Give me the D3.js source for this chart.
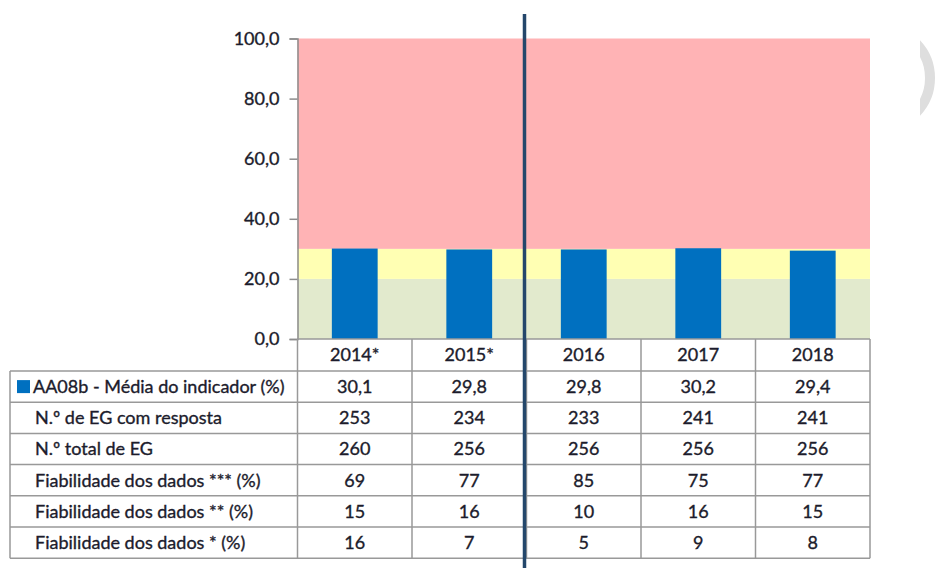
<!DOCTYPE html>
<html>
<head>
<meta charset="utf-8">
<script src="https://cdn.jsdelivr.net/npm/d3@7"></script>
<style>
  body { margin: 0; background: #fff; }
  svg { display: block; font-family: Lato, "Open Sans", sans-serif; }
</style>
</head>
<body>
<div class="chart"></div>
<script>
var years = ["2014*", "2015*", "2016", "2017", "2018"];
var media = [30.1, 29.8, 29.8, 30.2, 29.4];
var rowLabels = [
  "AA08b - Média do indicador (%)",
  "N.º de EG com resposta",
  "N.º total de EG",
  "Fiabilidade dos dados *** (%)",
  "Fiabilidade dos dados ** (%)",
  "Fiabilidade dos dados * (%)"
];
var rowValues = [
  ["30,1", "29,8", "29,8", "30,2", "29,4"],
  [253, 234, 233, 241, 241],
  [260, 256, 256, 256, 256],
  [69, 77, 85, 75, 77],
  [15, 16, 10, 16, 15],
  [16, 7, 5, 9, 8]
];
var bands = [
  {from: 0, to: 20, color: "#e2eacd"},
  {from: 20, to: 30, color: "#ffffb3"},
  {from: 30, to: 100, color: "#ffb3b5"}
];
var yTicks = [0, 20, 40, 60, 80, 100];

var width = 939, height = 568;
var plotLeft = 297.5, plotRight = 870, plotTop = 38.5, plotBottom = 339;
var tableLeft = 10, headerBottom = 371, rowH = 31.2;
var textColor = "#1c1c2c";

var svg = d3.select(".chart")
    .append("svg")
    .attr("width", width)
    .attr("height", height);

var x = d3.scaleBand().domain(years).range([plotLeft, plotRight])
    .paddingInner(0.6).paddingOuter(0.3);
var cols = d3.scaleBand().domain(years).range([plotLeft, plotRight]);
var y = d3.scaleLinear().domain([0, 100]).range([plotBottom, plotTop]);

// faixas de fundo
svg.selectAll(".band")
  .data(bands)
  .enter().append("rect")
    .attr("x", plotLeft)
    .attr("width", plotRight - plotLeft)
    .attr("y", function(d){ return y(d.to); })
    .attr("height", function(d){ return y(d.from) - y(d.to); })
    .attr("fill", function(d){ return d.color; });

// barras
svg.selectAll(".bar")
  .data(media)
  .enter().append("rect")
    .attr("x", function(d, i){ return x(years[i]); })
    .attr("width", x.bandwidth())
    .attr("y", function(d){ return y(d); })
    .attr("height", function(d){ return y(0) - y(d); })
    .attr("fill", "#0070c0");

// eixo y
var yAxis = svg.append("g")
    .attr("transform", "translate(" + plotLeft + ",0)")
    .call(d3.axisLeft(y).tickValues(yTicks).tickSize(8).tickPadding(10)
      .tickFormat(function(d){ return d3.format(".1f")(d).replace(".", ","); }));
yAxis.select(".domain").attr("stroke", "#8c8c8c").attr("stroke-width", 1.5);
yAxis.selectAll(".tick line").attr("stroke", "#8c8c8c").attr("stroke-width", 1.5);
yAxis.selectAll(".tick text")
    .attr("fill", textColor)
    .attr("stroke", textColor)
    .attr("stroke-width", 0.35)
    .style("font-size", "18px")
    .style("font-family", "Lato, sans-serif");

// tabela
var grid = svg.append("g")
    .attr("stroke", "#999")
    .attr("stroke-width", 1.5)
    .attr("fill", "none");

var tableBottom = headerBottom + rowH * rowLabels.length;

// linhas horizontais
grid.append("line")
    .attr("x1", plotLeft).attr("x2", plotRight)
    .attr("y1", plotBottom).attr("y2", plotBottom);
d3.range(rowLabels.length + 1).forEach(function(i){
  grid.append("line")
      .attr("x1", tableLeft).attr("x2", plotRight)
      .attr("y1", headerBottom + i * rowH).attr("y2", headerBottom + i * rowH);
});
// linhas verticais
grid.append("line")
    .attr("x1", tableLeft).attr("x2", tableLeft)
    .attr("y1", headerBottom).attr("y2", tableBottom);
years.forEach(function(yr){
  grid.append("line")
      .attr("x1", cols(yr)).attr("x2", cols(yr))
      .attr("y1", plotBottom).attr("y2", tableBottom);
});
grid.append("line")
    .attr("x1", plotRight).attr("x2", plotRight)
    .attr("y1", plotBottom).attr("y2", tableBottom);

var txt = svg.append("g")
    .attr("fill", textColor)
    .attr("stroke", textColor)
    .attr("stroke-width", 0.35)
    .style("font-size", "18px");

// cabeçalho
txt.selectAll(".hdr")
  .data(years)
  .enter().append("text")
    .attr("x", function(d){ return cols(d) + cols.bandwidth() / 2; })
    .attr("y", (plotBottom + headerBottom) / 2)
    .attr("dy", "0.36em")
    .attr("text-anchor", "middle")
    .text(function(d){ return d; });

// rótulos das linhas
txt.selectAll(".lbl")
  .data(rowLabels)
  .enter().append("text")
    .attr("x", function(d, i){ return i === 0 ? 33 : 35; })
    .attr("y", function(d, i){ return headerBottom + rowH * (i + 0.5); })
    .attr("dy", "0.36em")
    .text(function(d){ return d; });

svg.append("rect")
    .attr("x", 17).attr("y", headerBottom + rowH / 2 - 6.5)
    .attr("width", 13).attr("height", 13)
    .attr("fill", "#0070c0");

// valores
rowValues.forEach(function(row, r){
  txt.selectAll(".v" + r)
    .data(row)
    .enter().append("text")
      .attr("x", function(d, i){ return cols(years[i]) + cols.bandwidth() / 2; })
      .attr("y", headerBottom + rowH * (r + 0.5))
      .attr("dy", "0.36em")
      .attr("text-anchor", "middle")
      .text(function(d){ return d; });
});

// linha vertical de separação
svg.append("line")
    .attr("x1", 524.5).attr("x2", 524.5)
    .attr("y1", 14).attr("y2", height)
    .attr("stroke", "#24476b")
    .attr("stroke-width", 3.5);

// arco decorativo
svg.append("clipPath").attr("id", "arcClip")
  .append("rect").attr("x", 920).attr("y", 0).attr("width", 30).attr("height", 200);
svg.append("circle")
    .attr("cx", 880).attr("cy", 78).attr("r", 50)
    .attr("fill", "none")
    .attr("stroke", "#dedede")
    .attr("stroke-width", 10)
    .attr("clip-path", "url(#arcClip)");
</script>
</body>
</html>
